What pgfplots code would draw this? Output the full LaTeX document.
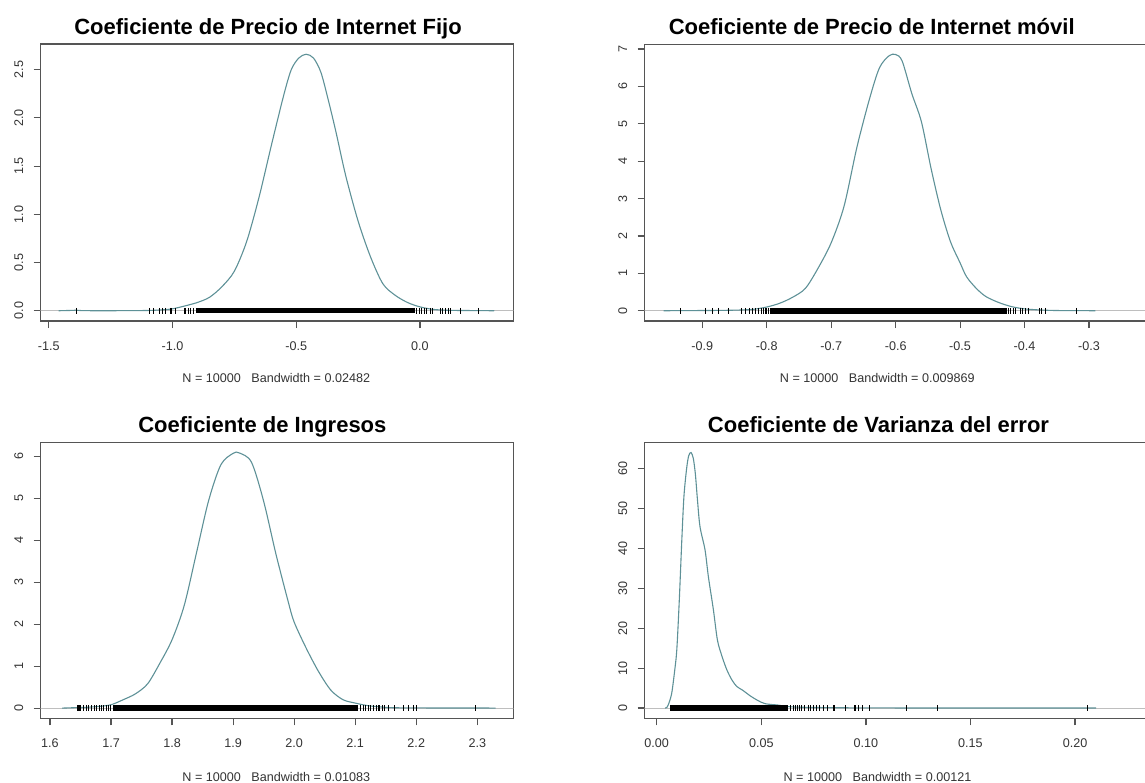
\documentclass[border=0pt]{standalone}
\usepackage{fontspec}
\setmainfont{Liberation Sans}
\usepackage{pgfplots}
\pgfplotsset{compat=1.18}
\definecolor{curvec}{HTML}{5E9197}
\definecolor{boxc}{HTML}{555555}
\definecolor{tickc}{HTML}{555555}
\definecolor{labc}{HTML}{333333}
\definecolor{zeroc}{HTML}{BEBEBE}
\newcommand\titfont{\fontsize{22}{24}\selectfont\bfseries}
\newcommand\labfont{\fontsize{12.6}{14}\selectfont}
\pgfplotsset{
  rplot/.style={
    scale only axis,
    axis line style={draw=boxc, line width=1.2pt},
    major tick style={draw=tickc, line width=1.2pt},
    major tick length=7pt, tick align=outside,
    xtick pos=bottom, ytick pos=left, minor tick num=0,
    ticklabel style={font=\labfont, text=labc},
    yticklabel style={xshift=-10.5pt, rotate=90, anchor=base},
    xticklabel style={anchor=base, yshift=-22pt},
    title style={font=\titfont, anchor=base},
    xlabel style={font=\labfont, text=labc, anchor=base},
  },
  dens/.style={draw=curvec, line width=1.1pt, no markers, smooth, tension=0.5},
  zline/.style={draw=zeroc, line width=1pt, no markers, forget plot},
  rugband/.style={draw=black, line width=5.5pt, line cap=butt, no markers, forget plot},
  rugticks/.style={only marks, mark=|, mark size=2.8pt, mark options={draw=black, line width=0.9pt}, forget plot},
}
\begin{document}
\begin{tikzpicture}
% ---------- top left ----------
\begin{axis}[rplot, at={(40.7pt,-321pt)}, anchor=south west,
  width=472.6pt, height=277pt,
  xmin=-1.5323, xmax=0.377, ymin=-0.1064, ymax=2.7664,
  xtick={-1.5,-1.0,-0.5,0}, xticklabels={-1.5,-1.0,-0.5,0.0},
  ytick={0,0.5,1,1.5,2,2.5}, yticklabels={0.0,0.5,1.0,1.5,2.0,2.5},
  title={Coeficiente de Precio de Internet Fijo},
  title style={at={(axis description cs:0.481,1)}, yshift=3.7pt},
  xlabel={N = 10000\ \ \ Bandwidth = 0.02482},
  xlabel style={at={(axis description cs:0.4985,0)}, yshift=-61pt},
]
\addplot[zline] coordinates {(-2,0) (1,0)};
\addplot[dens] coordinates {
(-1.46,0) (-1.40,0.004) (-1.39,0.006) (-1.37,0.002) (-1.30,0) (-1.12,0.002)
(-1.05,0.008) (-1.00,0.02) (-0.95,0.05) (-0.90,0.085) (-0.85,0.14) (-0.80,0.25)
(-0.75,0.41) (-0.70,0.72) (-0.65,1.18) (-0.60,1.72) (-0.55,2.24) (-0.52,2.50)
(-0.49,2.62) (-0.46,2.66) (-0.43,2.62) (-0.40,2.47) (-0.37,2.18) (-0.34,1.86)
(-0.30,1.40) (-0.25,0.93) (-0.20,0.56) (-0.15,0.28) (-0.10,0.16) (-0.05,0.085)
(0.00,0.04) (0.05,0.015) (0.10,0.006) (0.15,0.003) (0.20,0.002) (0.25,0.001) (0.30,0)};
\addplot[rugband] coordinates {(-0.905,0) (-0.02,0)};
\addplot[rugticks] coordinates {
(-1.386,0) (-1.093,0) (-1.077,0) (-1.053,0) (-1.039,0) (-1.027,0) (-1.010,0) (-1.003,0)
(-0.989,0) (-0.953,0) (-0.946,0) (-0.936,0) (-0.926,0) (-0.916,0)
(-0.0125,0) (-0.002,0) (0.0077,0) (0.017,0) (0.028,0) (0.041,0) (0.052,0)
(0.0817,0) (0.091,0) (0.102,0) (0.1155,0) (0.125,0) (0.165,0) (0.2365,0)};
\end{axis}
% ---------- top right ----------
\begin{axis}[rplot, at={(644.7pt,-321pt)}, anchor=south west,
  width=515.3pt, height=276.7pt,
  xmin=-0.9894, xmax=-0.1898, ymin=-0.274, ymax=7.124,
  xtick={-0.9,-0.8,-0.7,-0.6,-0.5,-0.4,-0.3}, xticklabels={-0.9,-0.8,-0.7,-0.6,-0.5,-0.4,-0.3},
  ytick={0,1,2,3,4,5,6,7}, yticklabels={0,1,2,3,4,5,6,7},
  title={Coeficiente de Precio de Internet móvil},
  title style={at={(axis description cs:0.4405,1)}, yshift=3.3pt},
  xlabel={N = 10000\ \ \ Bandwidth = 0.009869},
  xlabel style={at={(axis description cs:0.4514,0)}, yshift=-61pt},
]
\addplot[zline] coordinates {(-1.2,0) (0,0)};
\addplot[dens] coordinates {
(-0.96,0) (-0.93,0.004) (-0.90,0.006) (-0.87,0.01) (-0.84,0.02) (-0.82,0.04)
(-0.80,0.10) (-0.78,0.20) (-0.76,0.36) (-0.74,0.60) (-0.72,1.15) (-0.70,1.82)
(-0.68,2.80) (-0.66,4.38) (-0.64,5.70) (-0.625,6.50) (-0.61,6.82) (-0.60,6.85)
(-0.59,6.68) (-0.575,5.81) (-0.56,5.05) (-0.545,3.80) (-0.53,2.70) (-0.515,1.85)
(-0.50,1.28) (-0.49,0.91) (-0.475,0.60) (-0.46,0.38) (-0.44,0.22) (-0.42,0.11)
(-0.40,0.05) (-0.38,0.025) (-0.36,0.01) (-0.34,0.004) (-0.32,0.004) (-0.29,0)};
\addplot[rugband] coordinates {(-0.7955,0) (-0.4275,0)};
\addplot[rugticks] coordinates {
(-0.9335,0) (-0.8958,0) (-0.8845,0) (-0.8752,0) (-0.8597,0) (-0.840,0) (-0.8327,0)
(-0.8275,0) (-0.8218,0) (-0.8171,0) (-0.8125,0) (-0.8078,0) (-0.8053,0) (-0.8027,0)
(-0.800,0) (-0.7976,0)
(-0.4252,0) (-0.4215,0) (-0.4175,0) (-0.4137,0) (-0.4071,0) (-0.4035,0) (-0.3993,0)
(-0.3942,0) (-0.3771,0) (-0.3734,0) (-0.3683,0) (-0.3191,0)};
\end{axis}
% ---------- bottom left ----------
\begin{axis}[rplot, at={(40.7pt,-718.3pt)}, anchor=south west,
  width=472.6pt, height=276pt,
  xmin=1.5848, xmax=2.359, ymin=-0.243, ymax=6.333,
  xtick={1.6,1.7,1.8,1.9,2.0,2.1,2.2,2.3}, xticklabels={1.6,1.7,1.8,1.9,2.0,2.1,2.2,2.3},
  ytick={0,1,2,3,4,5,6}, yticklabels={0,1,2,3,4,5,6},
  title={Coeficiente de Ingresos},
  title style={at={(axis description cs:0.469,1)}, yshift=4pt},
  xlabel={N = 10000\ \ \ Bandwidth = 0.01083},
  xlabel style={at={(axis description cs:0.4985,0)}, yshift=-62.7pt},
]
\addplot[zline] coordinates {(1.4,0) (2.6,0)};
\addplot[dens] coordinates {
(1.62,0) (1.64,0.01) (1.66,0.02) (1.68,0.04) (1.70,0.08) (1.72,0.20) (1.74,0.34)
(1.76,0.58) (1.78,1.07) (1.80,1.63) (1.82,2.45) (1.84,3.70) (1.86,4.95) (1.88,5.80)
(1.90,6.07) (1.91,6.08) (1.93,5.86) (1.95,4.93) (1.97,3.68) (1.99,2.55) (2.00,2.05)
(2.02,1.42) (2.04,0.87) (2.06,0.43) (2.08,0.20) (2.10,0.12) (2.12,0.06) (2.14,0.03)
(2.16,0.01) (2.20,0.005) (2.25,0.002) (2.30,0.003) (2.33,0)};
\addplot[rugband] coordinates {(1.7037,0) (2.105,0)};
\addplot[rugticks] coordinates {
(1.6447,0) (1.6464,0) (1.6480,0) (1.6503,0) (1.6545,0) (1.6590,0) (1.6627,0) (1.6683,0)
(1.6726,0) (1.6765,0) (1.6808,0) (1.6847,0) (1.6873,0) (1.6917,0) (1.6955,0) (1.6983,0)
(2.1078,0) (2.1132,0) (2.1176,0) (2.1214,0) (2.1253,0) (2.1296,0) (2.1340,0) (2.1378,0)
(2.1405,0) (2.1449,0) (2.1487,0) (2.1541,0) (2.1651,0) (2.1787,0) (2.1869,0) (2.1951,0)
(2.2007,0) (2.2973,0)};
\end{axis}
% ---------- bottom right ----------
\begin{axis}[rplot, at={(644.7pt,-718.3pt)}, anchor=south west,
  width=515.3pt, height=276pt,
  xmin=-0.00574, xmax=0.2406, ymin=-2.56, ymax=66.56,
  xtick={0,0.05,0.10,0.15,0.20}, xticklabels={0.00,0.05,0.10,0.15,0.20},
  ytick={0,10,20,30,40,50,60}, yticklabels={0,10,20,30,40,50,60},
  title={Coeficiente de Varianza del error},
  title style={at={(axis description cs:0.4537,1)}, yshift=4pt},
  xlabel={N = 10000\ \ \ Bandwidth = 0.00121},
  xlabel style={at={(axis description cs:0.4518,0)}, yshift=-62.7pt},
]
\addplot[zline] coordinates {(-0.1,0) (0.4,0)};
\addplot[dens] coordinates {
(0.0040,0) (0.0050,0.25) (0.0060,1.5) (0.0072,3.8) (0.0085,9) (0.0096,14.6) (0.0108,27.1)
(0.0120,42.1) (0.0130,52.9) (0.0143,60.0) (0.0153,63.2) (0.0164,64.0) (0.0175,62.5)
(0.0185,58.5) (0.0195,52.0) (0.0207,45.4) (0.0231,39.6) (0.0247,32.9) (0.0271,24.6)
(0.0290,17.1) (0.0310,13.3) (0.0335,9.6) (0.0360,7.0) (0.0383,5.4) (0.0410,4.5)
(0.0446,3.1) (0.0480,2.0) (0.0518,1.1) (0.0581,0.75) (0.0620,0.4) (0.0700,0.2)
(0.0850,0.1) (0.1000,0.05) (0.1350,0.02) (0.2100,0.01)};
\addplot[rugband] coordinates {(0.00636,0) (0.0629,0)};
\addplot[rugticks] coordinates {
(0.0641,0) (0.0653,0) (0.0661,0) (0.0672,0) (0.0682,0) (0.0693,0) (0.0704,0) (0.0725,0)
(0.0733,0) (0.0749,0) (0.0765,0) (0.0777,0) (0.0796,0) (0.0815,0) (0.0844,0) (0.0852,0)
(0.0900,0) (0.0943,0) (0.0952,0) (0.0964,0) (0.0985,0) (0.1016,0) (0.1195,0) (0.1344,0)
(0.2060,0)};
\end{axis}
\pgfresetboundingbox
\path[use as bounding box] (0pt,0pt) rectangle (1145pt,-783pt);
\end{tikzpicture}
\end{document}
